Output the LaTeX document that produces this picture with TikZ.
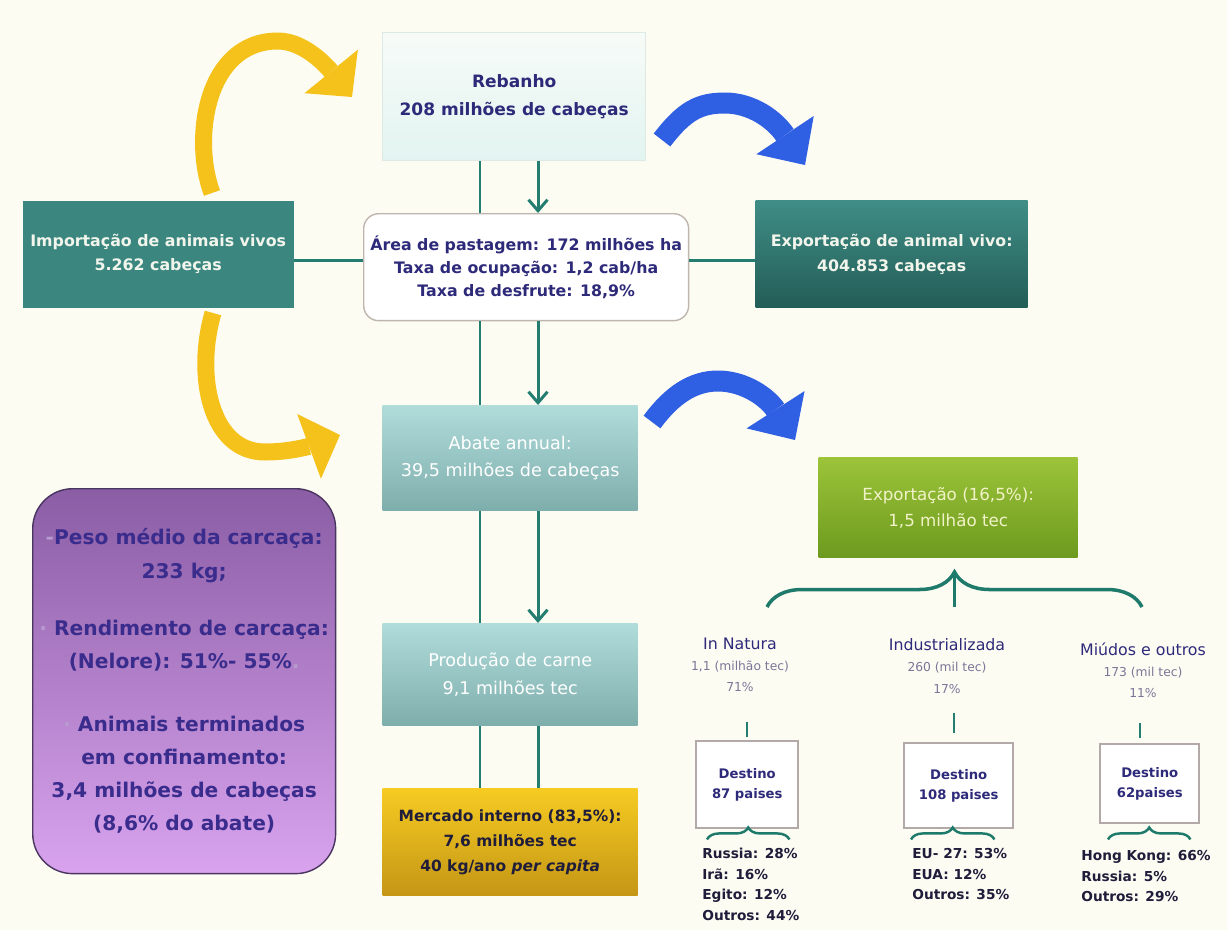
\documentclass[tikz,border=0pt]{standalone}
\usepackage{fontspec}
\setmainfont{DejaVu Sans}
\usepackage{tikz}
\usetikzlibrary{arrows.meta, shapes, positioning, calc, decorations.pathreplacing}

\definecolor{bgcream}{HTML}{FDFCF3}
\definecolor{tealline}{HTML}{237D70}
\definecolor{navytxt}{HTML}{2E2A7A}
\definecolor{purptxt}{HTML}{3A2C8C}
\definecolor{listtxt}{HTML}{1F1D3A}
\definecolor{subgray}{HTML}{7A7698}
\definecolor{lighttxt}{HTML}{F2F5EC}
\definecolor{arrowyellow}{HTML}{F5C21B}
\definecolor{arrowblue}{HTML}{2F5FE3}
\definecolor{rebtop}{HTML}{F7FBF8}
\definecolor{rebbot}{HTML}{E2F4F1}
\definecolor{rebline}{HTML}{DCE9E5}
\definecolor{areagray}{HTML}{BEB6AE}
\definecolor{impteal}{HTML}{3B8780}
\definecolor{exvtop}{HTML}{3F8D86}
\definecolor{exvbot}{HTML}{235D57}
\definecolor{abatop}{HTML}{B0DCDA}
\definecolor{ababot}{HTML}{7EAEAC}
\definecolor{mertop}{HTML}{F6CB22}
\definecolor{merbot}{HTML}{C49616}
\definecolor{purtop}{HTML}{8A5DA5}
\definecolor{purbot}{HTML}{D9A3EE}
\definecolor{purpline}{HTML}{4A3560}
\definecolor{purplite}{HTML}{B79AD0}
\definecolor{exptop}{HTML}{9CC43A}
\definecolor{expbot}{HTML}{6D9A1E}
\definecolor{exptxt}{HTML}{F2F2C8}
\definecolor{destgray}{HTML}{B3A9A9}
\definecolor{bracegreen}{HTML}{1E7A6A}

\tikzstyle{block} = [anchor=north west, align=center, inner sep=2pt, line width=0.8pt]
\tikzstyle{link} = [draw=tealline, line width=1.7pt]
\tikzstyle{flow} = [link, -{Straight Barb[length=0.22cm, width=0.38cm]}]
\tikzstyle{bendyellow} = [draw=arrowyellow, line width=0.34cm, -{Triangle[width=1.38cm, length=0.66cm, line width=0pt]}]
\tikzstyle{bendblue} = [draw=arrowblue, line width=0.42cm, -{Triangle[width=1.38cm, length=0.72cm, line width=0pt]}]
\tikzstyle{bracelink} = [draw=bracegreen, line width=2pt]

\begin{document}
\begin{tikzpicture}[x=0.02cm, y=-0.02cm]
		\useasboundingbox (0,0) rectangle (1227,930);
		\fill[bgcream] (0,0) rectangle (1227,930);

		\coordinate (railL) at (480,0);
		\coordinate (railR) at (538,0);
		\coordinate (yelA1) at (212,193);
		\coordinate (yelA2) at (352,97);
		\coordinate (yelB1) at (213,313);
		\coordinate (yelB2) at (340,435);
		\coordinate (bluA1) at (662,140);
		\coordinate (bluA2) at (805,165);
		\coordinate (bluB1) at (652,422);
		\coordinate (bluB2) at (795,440);
		\coordinate (brL) at (767,607);
		\coordinate (brR) at (1142,607);

		\node[block, minimum width=5.26cm, minimum height=2.56cm, draw=rebline, top color=rebtop, bottom color=rebbot, text=navytxt, font=\bfseries\fontsize{9.7}{15.5}\selectfont] (REB) at (382,32) {Rebanho\\208 milhões de cabeças};
		\node[block, minimum width=6.5cm, minimum height=2.14cm, draw=areagray, fill=white, rounded corners=0.3cm, text=navytxt, font=\bfseries\fontsize{9}{13}\selectfont] (AREA) at (363,213) {Área de pastagem: 172 milhões ha\\Taxa de ocupação: 1,2 cab/ha\\Taxa de desfrute: 18,9\%};
		\node[block, minimum width=5.42cm, minimum height=2.14cm, fill=impteal, text=lighttxt, font=\bfseries\fontsize{9}{13.5}\selectfont] (IMP) at (22,200) {Importação de animais vivos\\5.262 cabeças};
		\node[block, minimum width=5.44cm, minimum height=2.14cm, top color=exvtop, bottom color=exvbot, text=lighttxt, font=\bfseries\fontsize{9}{14.5}\selectfont] (EXV) at (755,200) {Exportação de animal vivo:\\404.853 cabeças};
		\node[block, minimum width=5.1cm, minimum height=2.1cm, top color=abatop, bottom color=ababot, text=white, font=\fontsize{10}{15.5}\selectfont] (ABA) at (382,405) {Abate annual:\\39,5 milhões de cabeças};
		\node[block, minimum width=5.1cm, minimum height=2.04cm, top color=abatop, bottom color=ababot, text=white, font=\fontsize{10}{15.5}\selectfont] (PRO) at (382,623) {Produção de carne\\9,1 milhões tec};
		\node[block, minimum width=5.1cm, minimum height=2.14cm, top color=mertop, bottom color=merbot, text=listtxt, font=\bfseries\fontsize{8.8}{14}\selectfont] (MER) at (382,788) {Mercado interno (83,5\%):\\7,6 milhões tec\\40 kg/ano \textit{per capita}};
		\node[block, minimum width=6.06cm, minimum height=7.7cm, rounded corners=0.8cm, draw=purpline, top color=purtop, bottom color=purbot, text=purptxt, font=\bfseries\fontsize{11.5}{18.8}\selectfont] (PUR) at (32,488) {{\color{purplite}-}Peso médio da carcaça:\\233 kg;\\[14pt]{\color{purplite}·} Rendimento de carcaça:\\(Nelore): 51\%- 55\%{\color{purplite}.}\\[17pt]{\color{purplite}·} Animais terminados\\em confinamento:\\3,4 milhões de cabeças\\(8,6\% do abate)};
		\node[block, minimum width=5.18cm, minimum height=2cm, top color=exptop, bottom color=expbot, text=exptxt, font=\fontsize{9.5}{15}\selectfont] (EXP) at (818,457) {Exportação (16,5\%):\\1,5 milhão tec};

		\node[align=center, text=navytxt, font=\fontsize{7}{12}\selectfont] (NAT) at (740,665) {{\fontsize{9}{12}\selectfont In Natura}\\{\color{subgray}1,1 (milhão tec)}\\{\color{subgray}71\%}};
		\node[align=center, text=navytxt, font=\fontsize{7}{12}\selectfont] (IND) at (947,666) {{\fontsize{9}{12}\selectfont Industrializada}\\{\color{subgray}260 (mil tec)}\\{\color{subgray}17\%}};
		\node[align=center, text=navytxt, font=\fontsize{7}{12}\selectfont] (MIU) at (1143,670) {{\fontsize{9}{12}\selectfont Miúdos e outros}\\{\color{subgray}173 (mil tec)}\\{\color{subgray}11\%}};

		\node[block, minimum width=2.04cm, minimum height=1.74cm, draw=destgray, line width=1.4pt, fill=white, text=navytxt, font=\bfseries\fontsize{7.5}{11.4}\selectfont] (D1) at (695,740) {Destino\\87 paises};
		\node[block, minimum width=2.18cm, minimum height=1.7cm, draw=destgray, line width=1.4pt, fill=white, text=navytxt, font=\bfseries\fontsize{7.5}{11.4}\selectfont] (D2) at (903,742) {Destino\\108 paises};
		\node[block, minimum width=1.98cm, minimum height=1.58cm, draw=destgray, line width=1.4pt, fill=white, text=navytxt, font=\bfseries\fontsize{7.5}{11.4}\selectfont] (D3) at (1099,743) {Destino\\62paises};

		\node[anchor=north west, align=left, inner sep=0pt, text=listtxt, font=\bfseries\fontsize{7.8}{11.7}\selectfont] (LST1) at (702,848) {Russia: 28\%\\Irã: 16\%\\Egito: 12\%\\Outros: 44\%};
		\node[anchor=north west, align=left, inner sep=0pt, text=listtxt, font=\bfseries\fontsize{7.8}{11.7}\selectfont] (LST2) at (912,848) {EU- 27: 53\%\\EUA: 12\%\\Outros: 35\%};
		\node[anchor=north west, align=left, inner sep=0pt, text=listtxt, font=\bfseries\fontsize{7.8}{11.7}\selectfont] (LST3) at (1081,850) {Hong Kong: 66\%\\Russia: 5\%\\Outros: 29\%};

		\draw[link] (REB.south -| railL) -- (AREA.north -| railL);
		\draw[flow] (REB.south -| railR) -- (AREA.north -| railR);
		\draw[link] (AREA.south -| railL) -- (ABA.north -| railL);
		\draw[flow] (AREA.south -| railR) -- (ABA.north -| railR);
		\draw[link] (ABA.south -| railL) -- (PRO.north -| railL);
		\draw[flow] (ABA.south -| railR) -- (PRO.north -| railR);
		\draw[link] (PRO.south -| railL) -- (MER.north -| railL);
		\draw[link] (PRO.south -| railR) -- (MER.north -| railR);
		\draw[link] ($(IMP.east)+(0,6)$) -- ($(IMP.east -| AREA.west)+(0,6)$);
		\draw[link] ($(EXV.west -| AREA.east)+(0,6)$) -- ($(EXV.west)+(0,6)$);

		\draw[bendyellow] (yelA1) .. controls (192,140) and (205,41) .. (278,41) .. controls (306,41) and (330,70) .. (yelA2);
		\draw[bendyellow] (yelB1) .. controls (195,375) and (210,452) .. (265,452) .. controls (290,452) and (310,446) .. (yelB2);
		\draw[bendblue] (bluA1) .. controls (685,110) and (700,103) .. (725,103) .. controls (752,103) and (775,120) .. (bluA2);
		\draw[bendblue] (bluB1) .. controls (672,395) and (693,381) .. (718,381) .. controls (745,381) and (768,398) .. (bluB2);

		\draw[bracelink, decorate, decoration={brace, amplitude=0.7cm}] (brL) -- (brR);
		\draw[bracelink] ($(brL)!0.5!(brR)$) -- ++(0,-35);
		\draw[link, line width=1.3pt] ($(D1.north)+(0,-3)$) -- ++(0,-15);
		\draw[link, line width=1.3pt] ($(D2.north)+(-5,-9)$) -- ++(0,-20);
		\draw[link, line width=1.3pt] ($(D3.north)+(-10,-5)$) -- ++(0,-15);
		\draw[bracelink, line width=1.4pt, decorate, decoration={brace, amplitude=0.24cm}] ($(D1.south west)+(12,10)$) -- ($(D1.south east)+(-10,10)$);
		\draw[bracelink, line width=1.4pt, decorate, decoration={brace, amplitude=0.24cm}] ($(D2.south west)+(8,10)$) -- ($(D2.south east)+(-20,10)$);
		\draw[bracelink, line width=1.4pt, decorate, decoration={brace, amplitude=0.24cm}] ($(D3.south west)+(9,15)$) -- ($(D3.south east)+(-10,15)$);
	\end{tikzpicture}
\end{document}
